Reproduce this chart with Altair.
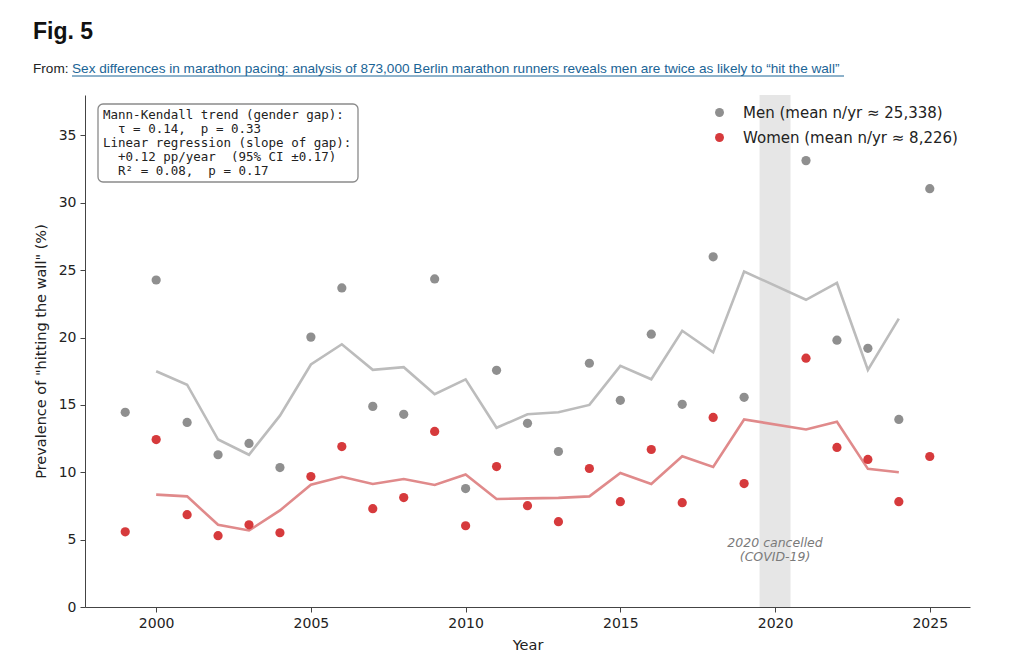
import altair as alt
import pandas as pd

# ---------------- data ----------------
years = [1999, 2000, 2001, 2002, 2003, 2004, 2005, 2006, 2007, 2008, 2009, 2010, 2011,
         2012, 2013, 2014, 2015, 2016, 2017, 2018, 2019, 2021, 2022, 2023, 2024, 2025]
men = [14.45, 24.27, 13.7, 11.3, 12.14, 10.35, 20.03, 23.68, 14.89, 14.3, 24.35, 8.79, 17.57,
       13.63, 11.54, 18.09, 15.34, 20.25, 15.04, 25.99, 15.56, 33.13, 19.8, 19.2, 13.92, 31.05]
women = [5.58, 12.43, 6.85, 5.29, 6.1, 5.51, 9.68, 11.91, 7.3, 8.12, 13.03, 6.03, 10.42,
         7.52, 6.33, 10.28, 7.82, 11.69, 7.74, 14.07, 9.16, 18.47, 11.84, 10.95, 7.82, 11.17]

trend_years = [2000, 2001, 2002, 2003, 2004, 2005, 2006, 2007, 2008, 2009, 2010, 2011, 2012,
               2013, 2014, 2015, 2016, 2017, 2018, 2019, 2021, 2022, 2023, 2024]
men_trend = [17.5, 16.5, 12.43, 11.3, 14.2, 18.0, 19.5, 17.6, 17.8, 15.8, 16.9, 13.3, 14.3,
             14.45, 15.0, 17.9, 16.9, 20.5, 18.9, 24.9, 22.8, 24.05, 17.6, 21.4]
women_trend = [8.34, 8.21, 6.1, 5.68, 7.17, 9.08, 9.66, 9.13, 9.5, 9.06, 9.83, 8.02, 8.06,
               8.1, 8.21, 9.95, 9.13, 11.19, 10.4, 13.92, 13.18, 13.75, 10.25, 10.0]

series_labels = ["Men (mean n/yr \u2248 25,338)", "Women (mean n/yr \u2248 8,226)"]
series_colors = ["#8f8f8f", "#d63a3c"]

cancel_start = [2019.5]
cancel_end = [2020.5]

NB = "\u00a0"
stats_lines = [
    "Mann-Kendall trend (gender gap):",
    "  \u03c4 = 0.14,  p = 0.33",
    "Linear regression (slope of gap):",
    "  +0.12 pp/year  (95% CI \u00b10.17)",
    "  R\u00b2 = 0.08,  p = 0.17",
]

# ---------------- frames ----------------
pts = pd.DataFrame({
    "Year": years * 2,
    "value": men + women,
    "series": [series_labels[0]] * len(years) + [series_labels[1]] * len(years),
})
men_tr = pd.DataFrame({"Year": trend_years, "value": men_trend})
women_tr = pd.DataFrame({"Year": trend_years, "value": women_trend})
band = pd.DataFrame({"start": cancel_start, "end": cancel_end})

W, H = 885, 512
FONT = "DejaVu Sans"

xs = alt.Scale(domain=[1997.7, 2026.3], nice=False, zero=False)
ys = alt.Scale(domain=[0, 38], nice=False)

x_axis = alt.Axis(title="Year", values=[2000, 2005, 2010, 2015, 2020, 2025], format="d",
                  grid=False, labelFontSize=14, titleFontSize=14.5, titlePadding=8,
                  tickSize=5, domainColor="#444", tickColor="#444", labelColor="#222",
                  titleColor="#222", labelFont=FONT, titleFont=FONT, titleFontWeight="normal",
                  labelPadding=4)
y_axis = alt.Axis(title='Prevalence of "hitting the wall" (%)', values=[0, 5, 10, 15, 20, 25, 30, 35],
                  grid=False, labelFontSize=14, titleFontSize=14.5, titlePadding=10,
                  tickSize=5, domainColor="#444", tickColor="#444", labelColor="#222",
                  titleColor="#222", labelFont=FONT, titleFont=FONT, titleFontWeight="normal",
                  labelPadding=4)

band_layer = alt.Chart(band).mark_rect(color="#e6e6e6").encode(
    x=alt.X("start:Q", scale=xs, axis=x_axis),
    x2="end:Q",
    y=alt.value(0),
    y2=alt.value(H),
)

men_line = alt.Chart(men_tr).mark_line(color="#bcbcbc", strokeWidth=2.6).encode(
    x=alt.X("Year:Q", scale=xs),
    y=alt.Y("value:Q", scale=ys, axis=y_axis),
)
women_line = alt.Chart(women_tr).mark_line(color="#e08a8b", strokeWidth=2.6).encode(
    x=alt.X("Year:Q", scale=xs),
    y=alt.Y("value:Q", scale=ys),
)

points = alt.Chart(pts).mark_circle(size=85, opacity=1).encode(
    x=alt.X("Year:Q", scale=xs),
    y=alt.Y("value:Q", scale=ys),
    color=alt.Color("series:N", scale=alt.Scale(domain=series_labels, range=series_colors),
                    legend=alt.Legend(title=None, orient="none", legendX=627, legendY=10,
                                      labelFontSize=15, labelFont=FONT, labelColor="#222",
                                      symbolSize=80, symbolType="circle", labelOffset=16,
                                      rowPadding=9, padding=0, symbolStrokeWidth=0,
                                      labelLimit=400)),
)

covid_text = alt.Chart(band).mark_text(
    text="2020 cancelled\n(COVID-19)", lineBreak="\n", fontStyle="italic", font=FONT,
    fontSize=12.5, color="#7a7a7a", align="center", baseline="middle", lineHeight=14,
).encode(
    x=alt.value((2020 - 1997.7) / (2026.3 - 1997.7) * W),
    y=alt.value(448),
)

box = alt.Chart(band).mark_rect(fill="white", stroke="#8a8a8a", strokeWidth=1.3,
                                cornerRadius=5).encode(
    x=alt.value(13), x2=alt.value(273), y=alt.value(9), y2=alt.value(87),
)
box_text = alt.Chart(band).mark_text(
    text="\n".join("\u200b" + s.replace(" ", NB) for s in stats_lines), lineBreak="\n",
    font="DejaVu Sans Mono", fontSize=12.5,
    lineHeight=14, align="left", baseline="top", color="#222",
).encode(x=alt.value(18), y=alt.value(14))

title_text = alt.Chart(band).mark_text(
    text="Fig. 5", font="Liberation Sans", fontSize=23, fontWeight="bold",
    align="left", baseline="alphabetic", color="#111",
).encode(x=alt.value(33 - 85), y=alt.value(39 - 95))

from_text = alt.Chart(band).mark_text(
    text="From:", font="Liberation Sans", fontSize=13.6, align="left",
    baseline="alphabetic", color="#222",
).encode(x=alt.value(33 - 85), y=alt.value(73 - 95))

link_text = alt.Chart(band).mark_text(
    text="Sex differences in marathon pacing: analysis of 873,000 Berlin marathon runners "
         "reveals men are twice as likely to \u201chit the wall\u201d",
    font="Liberation Sans", fontSize=13.6, align="left", baseline="alphabetic", color="#1a6496",
).encode(x=alt.value(72 - 85), y=alt.value(73 - 95))

link_rule = alt.Chart(band).mark_rule(color="#1a6496", strokeWidth=1).encode(
    x=alt.value(72 - 85), x2=alt.value(844 - 85), y=alt.value(76 - 95),
)

chart = alt.layer(
    band_layer, men_line, women_line, points, covid_text, box, box_text,
    title_text, from_text, link_text, link_rule,
).properties(
    width=W, height=H,
    autosize=alt.AutoSizeParams(type="none"),
    padding={"left": 85, "top": 95, "right": 54, "bottom": 52},
).configure_view(stroke=None).configure_axisY(domain=True).configure_axisX(domain=True)

chart.save("out.html", embed_options={"renderer": "svg", "actions": False})
